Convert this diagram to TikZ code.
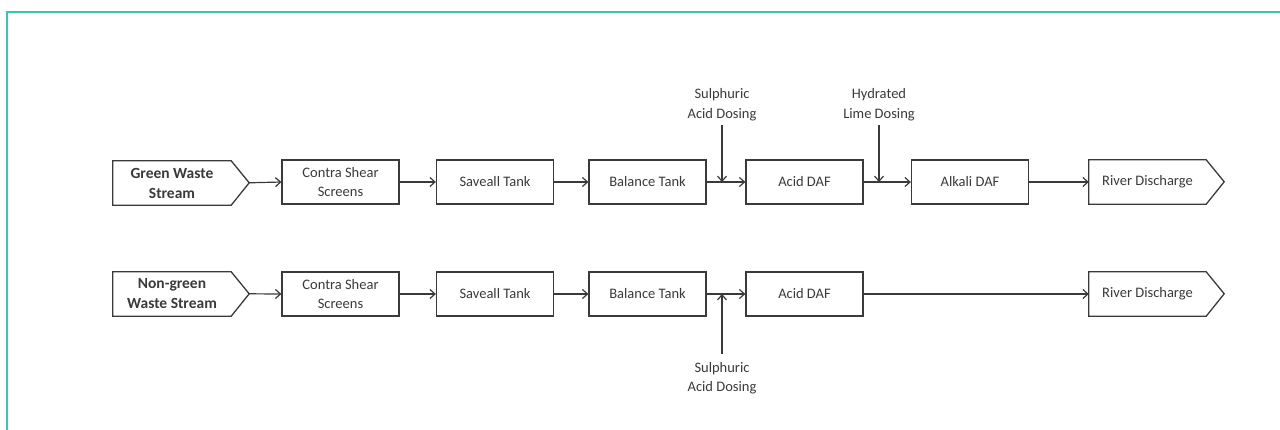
\documentclass[tikz,border=0pt]{standalone}
\usepackage{fontspec}
\setmainfont{Carlito}
\usetikzlibrary{arrows.meta,calc}
\definecolor{framecol}{HTML}{3CC3B3}
\definecolor{ink}{HTML}{3A3A3A}
\begin{document}
\begin{tikzpicture}[x=1pt,y=-1pt,
  txt/.style={font=\fontsize{14.5}{19.5}\selectfont, text=ink, align=center},
  box/.style={txt, draw=ink, line width=1.3pt, minimum width=117pt, minimum height=44pt, inner sep=0pt},
  srcbox/.style={txt, font=\fontsize{15.5}{20}\selectfont\bfseries, minimum width=118pt, minimum height=44pt, inner sep=0pt},
  dstbox/.style={txt, minimum width=117pt, minimum height=44pt, inner sep=0pt},
  shapeline/.style={draw=ink, line width=1.3pt, line join=miter},
  lbl/.style={txt, inner xsep=0pt},
  flow/.style={draw=ink, line width=1.2pt, -{Straight Barb[length=5pt,width=9pt]}}
]
\useasboundingbox (0,0) rectangle (1280,429);
\fill[white] (0,0) rectangle (1280,429);
\draw[framecol, line width=2pt] (7,440) -- (7,12) -- (1290,12);

% ---------- top row ----------
\node[srcbox] (g1) at (172,183) {Green Waste\\Stream};
\draw[shapeline] (g1.north west) -- (g1.north east) -- ++(18,22) coordinate (g1tip) -- (g1.south east) -- (g1.south west) -- cycle;
\node[box] (c1) at (340.5,182) {Contra Shear\\Screens};
\node[box] (s1) at (495,182) {Saveall Tank};
\node[box] (b1) at (647.5,182) {Balance Tank};
\node[box] (a1) at (804.5,182) {Acid DAF};
\node[box] (k1) at (970,182) {Alkali DAF};
\node[dstbox] (r1) at (1147.5,182) {River Discharge};
\draw[shapeline] (r1.north west) -- (r1.north east) -- ++(18,22) coordinate (r1tip) -- (r1.south east) -- (r1.south west) -- cycle;

\node[lbl, anchor=south, inner ysep=4pt] (sa1) at (722,125) {Sulphuric\\Acid Dosing};
\node[lbl, anchor=south, inner ysep=4pt] (hl1) at (879,125) {Hydrated\\Lime Dosing};
\coordinate (d1) at (sa1.south |- b1.east);
\coordinate (h1) at (hl1.south |- a1.east);

\draw[flow] (g1tip) -- (c1.west);
\draw[flow] (c1.east) -- (s1.west);
\draw[flow] (s1.east) -- (b1.west);
\draw[flow] (b1.east) -- (a1.west);
\draw[flow] (a1.east) -- (k1.west);
\draw[flow] (k1.east) -- (r1.west);
\draw[flow] (sa1.south) -- (d1);
\draw[flow] (hl1.south) -- (h1);

% ---------- bottom row ----------
\node[srcbox] (g2) at (172,294) {Non-green\\Waste Stream};
\draw[shapeline] (g2.north west) -- (g2.north east) -- ++(18,22) coordinate (g2tip) -- (g2.south east) -- (g2.south west) -- cycle;
\node[box] (c2) at (340.5,294) {Contra Shear\\Screens};
\node[box] (s2) at (495,294) {Saveall Tank};
\node[box] (b2) at (647.5,294) {Balance Tank};
\node[box] (a2) at (804.5,294) {Acid DAF};
\node[dstbox] (r2) at (1147.5,294) {River Discharge};
\draw[shapeline] (r2.north west) -- (r2.north east) -- ++(18,22) coordinate (r2tip) -- (r2.south east) -- (r2.south west) -- cycle;

\node[lbl, anchor=north, inner ysep=8pt] (sa2) at (722,354) {Sulphuric\\Acid Dosing};
\coordinate (d2) at (sa2.north |- b2.east);

\draw[flow] (g2tip) -- (c2.west);
\draw[flow] (c2.east) -- (s2.west);
\draw[flow] (s2.east) -- (b2.west);
\draw[flow] (b2.east) -- (a2.west);
\draw[flow] (a2.east) -- (r2.west);
\draw[flow] (sa2.north) -- (d2);
\end{tikzpicture}
\end{document}
